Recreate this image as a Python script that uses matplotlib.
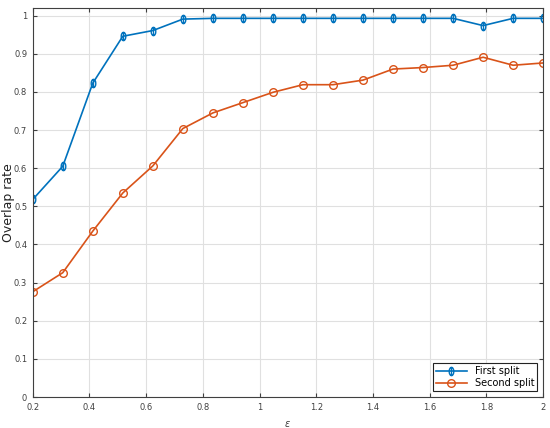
import numpy as np
import matplotlib
matplotlib.use("Agg")
import matplotlib.pyplot as plt
from matplotlib.path import Path

x_vals = np.linspace(0.2, 2.0, 18)
first_split = [0.518, 0.605, 0.823, 0.946, 0.961, 0.991, 0.993, 0.993, 0.993, 0.993,
               0.993, 0.993, 0.993, 0.993, 0.993, 0.974, 0.993, 0.993]
second_split = [0.276, 0.326, 0.435, 0.535, 0.606, 0.704, 0.745, 0.772, 0.799, 0.819,
                0.819, 0.831, 0.860, 0.864, 0.870, 0.891, 0.870, 0.876]
x_ticks = [0.2, 0.4, 0.6, 0.8, 1.0, 1.2, 1.4, 1.6, 1.8, 2.0]
x_ticklabels = ["0.2", "0.4", "0.6", "0.8", "1", "1.2", "1.4", "1.6", "1.8", "2"]
y_ticks = [0, 0.1, 0.2, 0.3, 0.4, 0.5, 0.6, 0.7, 0.8, 0.9, 1.0]
y_ticklabels = ["0", "0.1", "0.2", "0.3", "0.4", "0.5", "0.6", "0.7", "0.8", "0.9", "1"]

# custom marker: narrow ellipse with vertical bar
circ = Path.unit_circle()
verts = circ.vertices.copy()
verts[:, 0] *= 0.55
ell = Path(verts, circ.codes)
bar = Path([(0, -1), (0, 1)], [Path.MOVETO, Path.LINETO])
phi_marker = Path.make_compound_path(ell, bar)

blue = "#0072BD"
orange = "#D95319"
axc = "#404040"

fig = plt.figure(figsize=(5.5, 4.28), dpi=100)
ax = fig.add_axes([0.0595, 0.0724, 0.928, 0.9088])

ax.plot(x_vals, first_split, color=blue, lw=1.2, marker=phi_marker, ms=6,
        mfc="none", mec=blue, mew=1.0, label="First split")
ax.plot(x_vals, second_split, color=orange, lw=1.2, marker="o", ms=5.5,
        mfc="none", mec=orange, mew=1.0, label="Second split")

ax.set_xlim(0.2, 2.0)
ax.set_ylim(0, 1.02)
ax.set_xticks(x_ticks)
ax.set_xticklabels(x_ticklabels)
ax.set_yticks(y_ticks)
ax.set_yticklabels(y_ticklabels)
ax.grid(True, color="#e0e0e0", lw=0.8)
ax.set_axisbelow(True)
ax.tick_params(direction="in", top=True, right=True, labelsize=6, colors=axc,
               length=3, width=0.8, pad=4)
for s in ax.spines.values():
    s.set_color(axc)
    s.set_linewidth(0.8)
ax.set_ylabel("Overlap rate", fontsize=9, color="#222222")
ax.yaxis.set_label_coords(-0.035, 0.5)
ax.set_xlabel(r"$\epsilon$", fontsize=7, color=axc, labelpad=5)

leg = ax.legend(loc="lower right", fontsize=7, frameon=True, fancybox=False,
                edgecolor="#222222", framealpha=1, borderpad=0.3,
                handlelength=3.2, labelspacing=0.2, borderaxespad=0.6)
leg.get_frame().set_linewidth(0.8)

fig.savefig("out.png", dpi=100)
